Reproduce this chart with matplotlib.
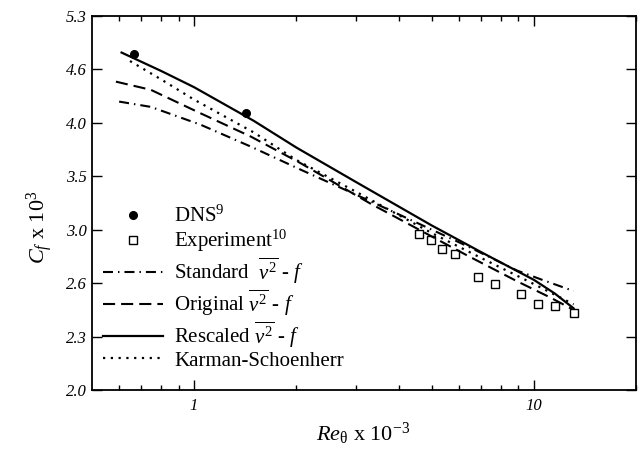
import numpy as np
import matplotlib
matplotlib.use("Agg")
import matplotlib.pyplot as plt
from matplotlib.ticker import FixedLocator, FixedFormatter, NullLocator, NullFormatter

# fonts: Times-like serif everywhere
plt.rcParams['font.family'] = ['Liberation Serif', 'DejaVu Serif']
plt.rcParams['mathtext.fontset'] = 'custom'
plt.rcParams['mathtext.rm'] = 'Liberation Serif'
plt.rcParams['mathtext.it'] = 'Liberation Serif:italic'

# DNS (Spalart)
dns_re = [0.666, 1.419]
dns_cf = [4.80, 4.11]

# experiment
exp_re = [4.60, 4.97, 5.38, 5.86, 6.84, 7.68, 9.13, 10.29, 11.52, 13.12]
exp_cf = [3.00, 2.955, 2.887, 2.849, 2.687, 2.638, 2.566, 2.504, 2.487, 2.446]

# standard v2-f
std_re = [0.602, 0.746, 1.046, 1.467, 2.058, 3.30, 6.35, 8.91, 10.5, 13.08]
std_cf = [4.238, 4.18, 3.99, 3.77, 3.55, 3.27, 2.91, 2.73, 2.667, 2.588]

# original v2-f
orig_re = [0.589, 0.746, 1.046, 1.467, 2.058, 3.30, 6.35, 8.91, 11.16, 12.92]
orig_cf = [4.464, 4.37, 4.11, 3.87, 3.61, 3.25, 2.84, 2.655, 2.545, 2.47]

# rescaled v2-f
resc_re = [0.612, 0.8, 1.0, 1.5, 2.0, 3.0, 5.0, 7.0, 10.0, 11.5, 13.08]
resc_cf = [4.815, 4.59, 4.40, 4.03, 3.76, 3.436, 3.07, 2.863, 2.664, 2.572, 2.474]

# Karman-Schoenherr
ks_re = [0.648, 0.8, 1.0, 1.5, 2.0, 3.0, 5.0, 7.0, 10.0, 13.08]
ks_cf = [4.71, 4.49, 4.26, 3.91, 3.64, 3.35, 3.01, 2.82, 2.635, 2.50]

ytick_labels = ['2.0', '2.3', '2.6', '3.0', '3.5', '4.0', '4.6', '5.3']

fig = plt.figure(figsize=(6.41, 4.5), dpi=100)
ax = fig.add_axes([0.1431, 0.1333, 0.8496, 0.8318])

ax.plot(dns_re, dns_cf, 'o', color='black', markersize=5.5, label='DNS$^9$')
ax.plot(exp_re, exp_cf, 's', markerfacecolor='white', markeredgecolor='black',
        markeredgewidth=1.0, markersize=5.5, label='Experiment$^{10}$')
ax.plot(std_re, std_cf, color='black', lw=1.5, linestyle=(0, (4.8, 2.4, 0.7, 2.4)),
        label=r'Standard  $\overline{v^2}$ - $f$')
ax.plot(orig_re, orig_cf, color='black', lw=1.5, linestyle=(0, (5.8, 2.9)),
        label=r'Original $\overline{v^2}$ - $f$')
ax.plot(resc_re, resc_cf, color='black', lw=1.6, linestyle='-',
        label=r'Rescaled $\overline{v^2}$ - $f$')
ax.plot(ks_re, ks_cf, color='black', lw=1.6, linestyle=(0, (1, 2.5)),
        label='Karman-Schoenherr')

ax.set_xscale('log')
ax.set_yscale('log')
ax.set_xlim(0.5, 20)
ax.set_ylim(2.0, 5.3)

# y ticks evenly spaced in log, labelled with rounded values
ax.yaxis.set_major_locator(FixedLocator(np.geomspace(2.0, 5.3, len(ytick_labels))))
ax.yaxis.set_major_formatter(FixedFormatter(ytick_labels))
ax.yaxis.set_minor_locator(NullLocator())

ax.xaxis.set_major_locator(FixedLocator([1, 10]))
ax.xaxis.set_major_formatter(FixedFormatter(['1', '10']))
ax.xaxis.set_minor_locator(FixedLocator([0.6, 0.7, 0.8, 0.9, 2, 3, 4, 5, 6, 7, 8, 9, 20]))
ax.xaxis.set_minor_formatter(NullFormatter())

ax.tick_params(which='both', direction='in', top=True, right=True, width=1.0)
ax.tick_params(which='major', length=7.2)
ax.tick_params(which='minor', length=3.6)
ax.tick_params(axis='y', labelsize=12, pad=3.5)
ax.tick_params(axis='x', labelsize=12, pad=6)
for lab in ax.get_xticklabels() + ax.get_yticklabels():
    lab.set_fontstyle('italic')
for sp in ax.spines.values():
    sp.set_linewidth(1.3)

ax.set_ylabel('$C_f$ x 10$^3$', fontsize=16)
ax.yaxis.set_label_coords(-0.067, 0.435)
ax.set_xlabel(r'$Re_{\mathrm{\theta}}$ x 10$^{-3}$', fontsize=16)
ax.xaxis.set_label_coords(0.498, -0.083)

ax.legend(loc='center left', bbox_to_anchor=(0.02, 0.272), frameon=False, fontsize=15,
          handlelength=2.9, handletextpad=0.55, labelspacing=0.05, numpoints=1,
          borderaxespad=0.0, borderpad=0.0)

fig.savefig('out.png', dpi=100)
